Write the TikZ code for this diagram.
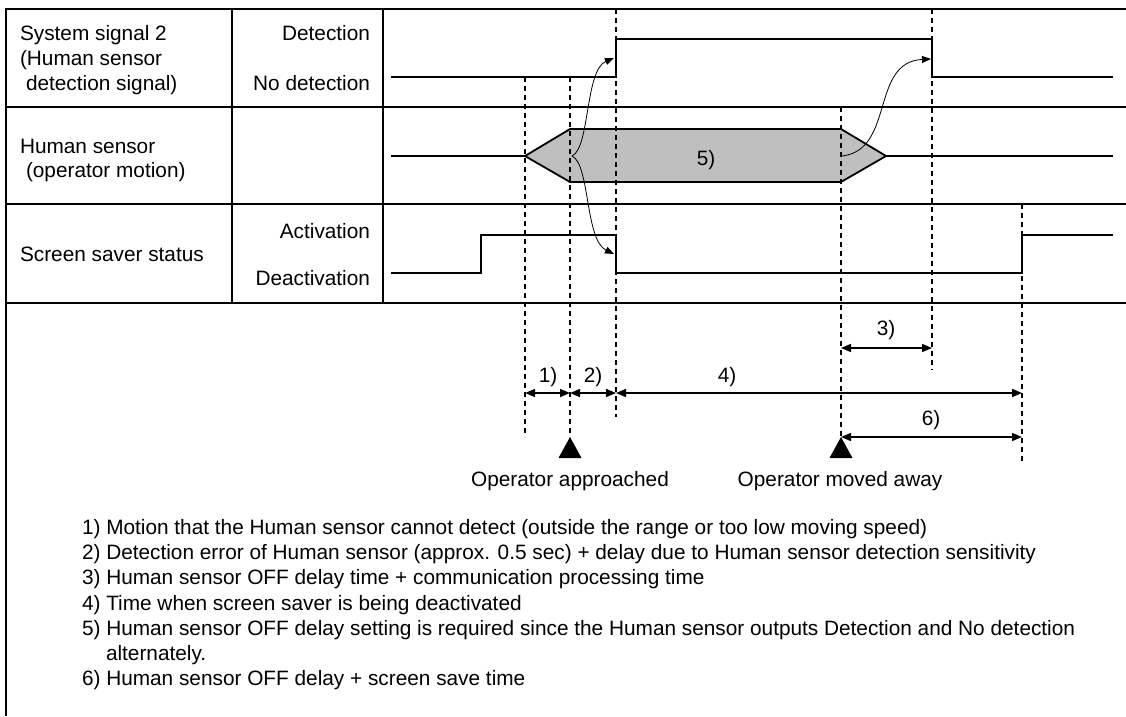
\documentclass[tikz,border=0pt]{standalone}
\usepackage{fontspec}
\setmainfont{Liberation Sans}
\usetikzlibrary{arrows.meta}
\begin{document}
\begin{tikzpicture}[x=1pt,y=-1pt,
  every node/.style={font=\fontsize{20.8pt}{25pt}\selectfont, inner sep=0pt, outer sep=0pt},
  tbl/.style={line width=2pt},
  sig/.style={line width=2.2pt},
  guide/.style={line width=1.1pt, dash pattern=on 5pt off 4pt},
  dim/.style={line width=1.4pt, {Triangle[length=10pt,width=8pt]}-{Triangle[length=10pt,width=8pt]}},
  cause/.style={line width=0.8pt, -{Triangle[length=9pt,width=7pt]}},
  lbl/.style={anchor=base west},
  rlbl/.style={anchor=base east},
  clbl/.style={anchor=base},
  opmark/.style={fill=black}
]
\useasboundingbox (0,0) rectangle (1126,716);

% ---------- table ----------
\draw[tbl] (6,716) -- (6,9) -- (1126,9);
\draw[tbl] (6,107) -- (1126,107);
\draw[tbl] (6,204) -- (1126,204);
\draw[tbl] (6,303) -- (1126,303);
\draw[tbl] (232,9) -- (232,303);
\draw[tbl] (383,9) -- (383,303);

% ---------- row labels ----------
\node[lbl] (r1a) at (20,40) {System signal 2};
\node[lbl] (r1b) at (20,65) {(Human sensor};
\node[lbl] (r1c) at (26,90) {detection signal)};
\node[lbl] (r2a) at (20,153) {Human sensor};
\node[lbl] (r2b) at (26,177) {(operator motion)};
\node[lbl] (r3a) at (20,261) {Screen saver status};
\node[rlbl] (s1h) at (370,40) {Detection};
\node[rlbl] (s1l) at (370,90) {No detection};
\node[rlbl] (s3h) at (370,238) {Activation};
\node[rlbl] (s3l) at (370,285) {Deactivation};

% ---------- motion band ----------
\draw[line width=1.8pt, fill=gray!50] (525,156) -- (570,129) -- (841,129) -- (886,156) -- (841,182) -- (570,182) -- cycle;
\node[clbl] (five) at (706,165) {5)};

% ---------- guide lines ----------
\coordinate (g1t) at (525,77);  \coordinate (g1b) at (525,437);
\coordinate (g2t) at (570,77);  \coordinate (g2b) at (570,437);
\coordinate (g3t) at (616,9);   \coordinate (g3b) at (616,417);
\coordinate (g4t) at (841,107); \coordinate (g4b) at (841,437);
\coordinate (g5t) at (932,9);   \coordinate (g5b) at (932,370);
\coordinate (g6t) at (1022,204);\coordinate (g6b) at (1022,463);
\draw[guide] (g1t) -- (g1b);
\draw[guide] (g2t) -- (g2b);
\draw[guide] (g3t) -- (g3b);
\draw[guide] (g4t) -- (g4b);
\draw[guide] (g5t) -- (g5b);
\draw[guide] (g6t) -- (g6b);

% ---------- signals ----------
\draw[sig] (391,77) -- (616,77) -- (616,39) -- (932,39) -- (932,77) -- (1113,77);
\draw[sig] (391,156) -- (525,156);
\draw[sig] (886,156) -- (1113,156);
\draw[sig] (391,273) -- (481,273) -- (481,235) -- (616,235) -- (616,273) -- (1022,273) -- (1022,235) -- (1113,235);

% ---------- cause arrows ----------
\coordinate (cA) at (572,156);
\coordinate (tA) at (614,58);
\coordinate (tB) at (614,254);
\coordinate (cC) at (842,156);
\coordinate (tC) at (931,59);
\draw[cause] (cA) .. controls (590,148) and (585,70) .. (tA);
\draw[cause] (cA) .. controls (590,164) and (585,240) .. (tB);
\draw[cause] (cC) .. controls (895,150) and (870,62) .. (tC);

% ---------- dimension arrows ----------
\coordinate (d3a) at (841,348);  \coordinate (d3b) at (932,348);
\coordinate (d1a) at (525,393);  \coordinate (d1b) at (570,393);
\coordinate (d2b) at (616,393);  \coordinate (d4b) at (1022,393);
\coordinate (d6a) at (841,437);  \coordinate (d6b) at (1022,437);
\draw[dim] (d3a) -- (d3b);
\draw[dim] (d1a) -- (d1b);
\draw[dim] (d1b) -- (d2b);
\draw[dim] (d2b) -- (d4b);
\draw[dim] (d6a) -- (d6b);
\node[clbl] (n3) at (886,335) {3)};
\node[clbl] (n1) at (548,382) {1)};
\node[clbl] (n2) at (593,382) {2)};
\node[clbl] (n4) at (727,382) {4)};
\node[clbl] (n6) at (931,425) {6)};

% ---------- operator marks ----------
\fill[opmark] (g2b) -- ++(-11.5,21) -- ++(23,0) -- cycle;
\fill[opmark] (g4b) -- ++(-11.5,21) -- ++(23,0) -- cycle;
\node[clbl] (oa) at (570,486) {Operator approached};
\node[clbl] (om) at (840,486) {Operator moved away};

% ---------- notes ----------
\node[lbl] (l1) at (82,534) {1) Motion that the Human sensor cannot detect (outside the range or too low moving speed)};
\node[lbl] (l2) at (82,559) {2) Detection error of Human sensor (approx. 0.5 sec) + delay due to Human sensor detection sensitivity};
\node[lbl] (l3) at (82,584) {3) Human sensor OFF delay time + communication processing time};
\node[lbl] (l4) at (82,610) {4) Time when screen saver is being deactivated};
\node[lbl] (l5) at (82,635) {5) Human sensor OFF delay setting is required since the Human sensor outputs Detection and No detection};
\node[lbl] (l5b) at (106,660) {alternately.};
\node[lbl] (l6) at (82,685) {6) Human sensor OFF delay + screen save time};
\end{tikzpicture}
\end{document}
